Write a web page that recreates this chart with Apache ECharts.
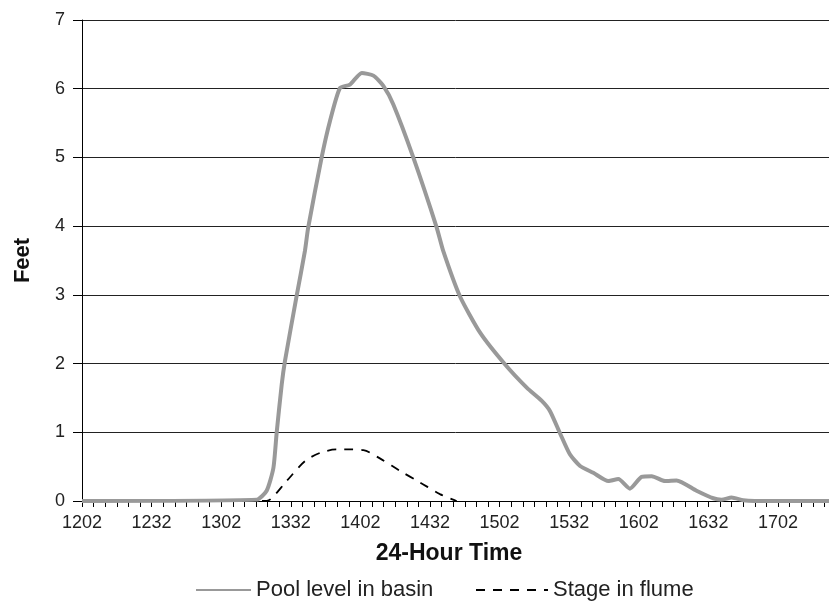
<!DOCTYPE html>
<html><head><meta charset="utf-8">
<script src="https://cdn.jsdelivr.net/npm/echarts@6/dist/echarts.min.js"></script>
<style>html,body{margin:0;padding:0;background:#fff}#c{width:829px;height:604px}</style>
</head><body><div id="c"></div>
<script>
// x values are minutes after 12:02
var tickLabels = ['1202','1232','1302','1332','1402','1432','1502','1532','1602','1632','1702','1732'];
var poolMinutes = [0, 75.3, 79.6, 82.5, 83.9, 86.1, 87.5, 92.5, 96.1, 97.5, 103.3, 106.9, 111.2, 115.5, 120.6, 125.6, 129.9, 134.2, 142.8, 152.9, 155.7, 162.9, 171.6, 182.3, 191.7, 198.1, 201.7, 206, 210.3, 214.7, 220.4, 226.9, 231.2, 236.2, 241.2, 245.6, 251.3, 256.3, 264.9, 272.1, 275.7, 280, 285, 290, 322];
var poolLevel   = [0, 0.02, 0.15, 0.48, 0.99, 1.70, 2.04, 2.98, 3.64, 3.98, 5.0, 5.53, 6.01, 6.06, 6.23, 6.19, 6.04, 5.77, 5.0, 3.98, 3.64, 2.98, 2.45, 1.99, 1.65, 1.46, 1.31, 0.99, 0.68, 0.51, 0.41, 0.29, 0.32, 0.18, 0.35, 0.36, 0.29, 0.30, 0.15, 0.04, 0.02, 0.05, 0.01, 0, 0];
var stageMinutes = [77.6, 81, 88.2, 96.1, 102.6, 109.8, 115.5, 121.3, 128.4, 137, 145.7, 154.3, 161.5];
var stageLevel   = [0, 0.02, 0.29, 0.58, 0.70, 0.75, 0.75, 0.74, 0.62, 0.44, 0.27, 0.10, 0.0];
var yTicks = [0,1,2,3,4,5,6,7];

function pairs(xs, ys){ return xs.map(function(x,i){ return [x, ys[i]]; }); }

var chart = echarts.init(document.getElementById('c'));
var FONT = 'Liberation Sans, Arial, sans-serif';
chart.setOption({
  animation: false,
  backgroundColor: '#fff',
  grid: { left: 82, right: 0, top: 20, bottom: 103, containLabel: false, outerBoundsMode: 'none' },
  xAxis: {
    type: 'value', min: 0, max: 322, interval: 5,
    axisLine: { show: true, lineStyle: { color: '#000', width: 1 } },
    axisTick: { show: true, length: 6, inside: false, lineStyle: { color: '#000', width: 1 } },
    splitLine: { show: false },
    axisLabel: {
      margin: 13, fontSize: 18, color: '#222', fontFamily: FONT, showMaxLabel: false,
      formatter: function(v){ return (v % 30 === 0) ? tickLabels[v/30] : ''; }
    }
  },
  yAxis: {
    type: 'value', min: yTicks[0], max: yTicks[yTicks.length-1], interval: 1,
    axisLine: { show: true, lineStyle: { color: '#000', width: 1 } },
    axisTick: { show: true, length: 9, lineStyle: { color: '#000' } },
    splitLine: { show: true, lineStyle: { color: '#222', width: 1 } },
    axisLabel: { margin: 17, fontSize: 18, color: '#222', fontFamily: FONT },
    name: 'Feet', nameLocation: 'middle', nameGap: 48, nameRotate: 90,
    nameTextStyle: { fontSize: 22, fontWeight: 'bold', color: '#111', fontFamily: FONT }
  },
  legend: [
    { data: [{name:'Pool level in basin'}], left: 190, top: 574, itemWidth: 55, itemHeight: 14,
      itemStyle: { opacity: 0 },
      textStyle: { fontSize: 22, color: '#222', fontFamily: FONT } },
    { data: [{name:'Stage in flume'}], left: 470, top: 574, itemWidth: 72, itemHeight: 14,
      itemStyle: { opacity: 0 },
      textStyle: { fontSize: 22, color: '#222', fontFamily: FONT } }
  ],
  graphic: [
    { type: 'text', x: 449, y: 554, style: { text: '24-Hour Time', font: 'bold 23px ' + FONT, fill: '#111', align: 'center', verticalAlign: 'middle' } }
  ],
  series: [
    { name: 'Pool level in basin', type: 'line', data: pairs(poolMinutes, poolLevel),
      showSymbol: false, symbol: 'none', smooth: 0.2, z: 3,
      lineStyle: { color: '#999999', width: 4 }, itemStyle: { color: '#999999' } },
    { name: 'Stage in flume', type: 'line', data: pairs(stageMinutes, stageLevel),
      showSymbol: false, symbol: 'none', smooth: 0.3, z: 4,
      lineStyle: { color: '#000', width: 1.8, type: [9, 8] }, itemStyle: { color: '#000' } }
  ]
});
</script></body></html>
